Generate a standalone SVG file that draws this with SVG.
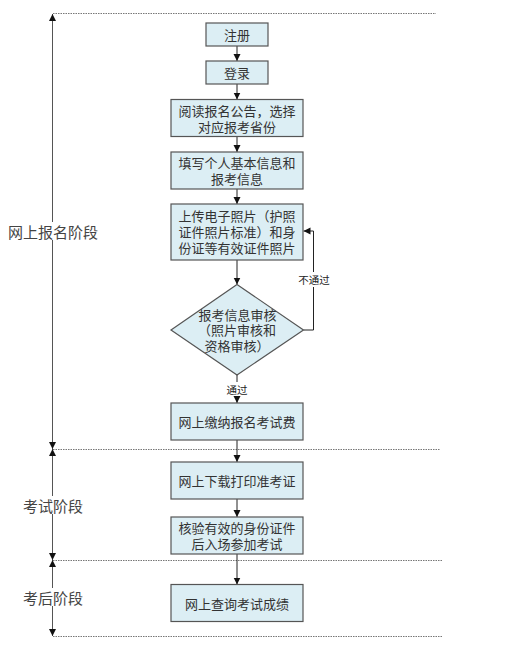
<svg xmlns="http://www.w3.org/2000/svg" width="519" height="655" viewBox="0 0 519 655">
<style>
.box{fill:#DCEEF4;stroke:#555;stroke-width:1.2}
.t{font-family:"Noto Sans CJK SC","Noto Sans CJK JP",sans-serif;font-size:13px;fill:#333;text-anchor:middle;dominant-baseline:central}
.s{font-family:"Noto Sans CJK SC","Noto Sans CJK JP",sans-serif;font-size:10.5px;fill:#222;text-anchor:middle;dominant-baseline:central}
.lab{font-family:"Noto Sans CJK SC","Noto Sans CJK JP",sans-serif;font-size:15px;fill:#444;text-anchor:middle;dominant-baseline:central}
.ln{fill:none;stroke:#222;stroke-width:1}
.dot{fill:none;stroke:#777;stroke-width:1;stroke-dasharray:1.5,1}
.ax{fill:none;stroke:#555;stroke-width:1}
</style>
<defs>
<marker id="ah" markerWidth="8" markerHeight="8" refX="7" refY="4" orient="auto" markerUnits="userSpaceOnUse">
<path d="M0,0.5 L7,4 L0,7.5 Z" fill="#111"/>
</marker>
<marker id="as" markerWidth="8" markerHeight="8" refX="0" refY="4" orient="auto" markerUnits="userSpaceOnUse">
<path d="M7,0.5 L0,4 L7,7.5 Z" fill="#111"/>
</marker>
</defs>
<rect width="519" height="655" fill="#fff"/>
<g id="guides">
<line class="dot" x1="53" y1="13.5" x2="436" y2="13.5"/>
<line class="dot" x1="53" y1="449.5" x2="440" y2="449.5"/>
<line class="dot" x1="53" y1="560.5" x2="443" y2="560.5"/>
<line class="dot" x1="53" y1="636.5" x2="443" y2="636.5"/>
<line class="ax" x1="52.5" y1="14" x2="52.5" y2="449" marker-start="url(#as)" marker-end="url(#ah)"/>
<line class="ax" x1="52.5" y1="449" x2="52.5" y2="560" marker-start="url(#as)" marker-end="url(#ah)"/>
<line class="ax" x1="52.5" y1="560" x2="52.5" y2="636" marker-start="url(#as)" marker-end="url(#ah)"/>
</g>
<g id="phase1"><rect x="6" y="222" width="94" height="18" fill="#fff"/><text class="lab" x="53" y="231">网上报名阶段</text></g>
<g id="phase2"><rect x="22" y="496" width="62" height="18" fill="#fff"/><text class="lab" x="53" y="505">考试阶段</text></g>
<g id="phase3"><rect x="22" y="588" width="62" height="18" fill="#fff"/><text class="lab" x="53" y="597">考后阶段</text></g>
<g id="connectors">
<line class="ln" x1="237" y1="45.5" x2="237" y2="61" marker-end="url(#ah)"/>
<line class="ln" x1="237" y1="84" x2="237" y2="99.5" marker-end="url(#ah)"/>
<line class="ln" x1="237" y1="137" x2="237" y2="152" marker-end="url(#ah)"/>
<line class="ln" x1="237" y1="189" x2="237" y2="204" marker-end="url(#ah)"/>
<line class="ln" x1="237" y1="260" x2="237" y2="284.5" marker-end="url(#ah)"/>
<polyline class="ln" points="303.5,330 313.5,330 313.5,231 303.5,231" marker-end="url(#ah)"/>
<line class="ln" x1="237" y1="375" x2="237" y2="403" marker-end="url(#ah)"/>
<line class="ln" x1="237" y1="440" x2="237" y2="462" marker-end="url(#ah)"/>
<line class="ln" x1="237" y1="499" x2="237" y2="517" marker-end="url(#ah)"/>
<line class="ln" x1="237" y1="554" x2="237" y2="584.5" marker-end="url(#ah)"/>
<rect x="296" y="272" width="36" height="15" fill="#fff"/>
<text class="s" x="314" y="279.5">不通过</text>
<rect x="224" y="382" width="26" height="14" fill="#fff"/>
<text class="s" x="237" y="389">通过</text>
</g>
<g id="n1"><rect class="box" x="206" y="23" width="62" height="23"/><text class="t" x="237" y="34.5">注册</text></g>
<g id="n2"><rect class="box" x="206" y="61" width="62" height="23"/><text class="t" x="237" y="72.5">登录</text></g>
<g id="n3"><rect class="box" x="171" y="99.5" width="132" height="37"/><text class="t" x="237" y="110">阅读报名公告，选择</text><text class="t" x="237" y="126.5">对应报考省份</text></g>
<g id="n4"><rect class="box" x="171" y="152" width="132" height="37"/><text class="t" x="237" y="162.5">填写个人基本信息和</text><text class="t" x="237" y="178.5">报考信息</text></g>
<g id="n5"><rect class="box" x="171" y="204" width="132" height="56"/><text class="t" x="237" y="215.5">上传电子照片（护照</text><text class="t" x="237" y="231.5">证件照片标准）和身</text><text class="t" x="237" y="247.5">份证等有效证件照片</text></g>
<g id="n6"><polygon class="box" points="237,284.5 303.5,330 237,375 171,330"/><text class="t" x="237.5" y="314">报考信息审核</text><text class="t" x="237" y="329.5">（照片审核和</text><text class="t" x="237" y="345">资格审核）</text></g>
<g id="n7"><rect class="box" x="171" y="403" width="132" height="37"/><text class="t" x="237" y="421.5">网上缴纳报名考试费</text></g>
<g id="n8"><rect class="box" x="171" y="462" width="132" height="37"/><text class="t" x="237" y="480.5">网上下载打印准考证</text></g>
<g id="n9"><rect class="box" x="171" y="517" width="132" height="37"/><text class="t" x="237" y="527.5">核验有效的身份证件</text><text class="t" x="237" y="543.5">后入场参加考试</text></g>
<g id="n10"><rect class="box" x="171" y="584.5" width="132" height="37"/><text class="t" x="237" y="603">网上查询考试成绩</text></g>
</svg>
